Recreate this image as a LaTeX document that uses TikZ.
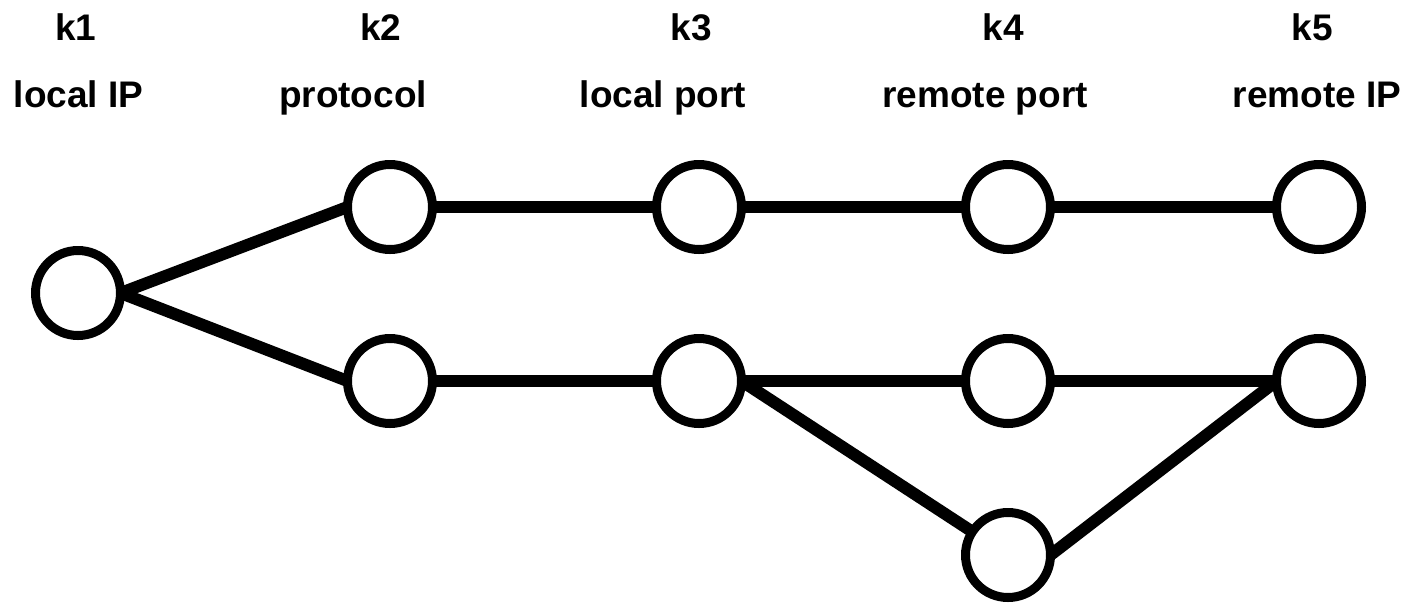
\documentclass[tikz,border=0pt]{standalone}
\usepackage{fontspec}
\setmainfont{Liberation Sans}
\begin{document}
\begin{tikzpicture}[x=1pt,y=-1pt,
  vnode/.style={circle,draw=black,line width=9pt,minimum size=85pt,inner sep=0pt,outer sep=0pt},
  edge/.style={line width=12pt,draw=black},
  lbl/.style={anchor=base,font=\fontsize{37}{44}\selectfont\bfseries,inner sep=0pt}]
\useasboundingbox (0,0) rectangle (1405,606);
% labels
\node[lbl] (t1a) at (76,40) {k1};
\node[lbl] (t1b) at (78.5,107) {local IP};
\node[lbl] (t2a) at (381,40) {k2};
\node[lbl] (t2b) at (353,107) {protocol};
\node[lbl] (t3a) at (691,40) {k3};
\node[lbl] (t3b) at (663,107) {local port};
\node[lbl] (t4a) at (1003,40) {k4};
\node[lbl] (t4b) at (985,107) {remote port};
\node[lbl] (t5a) at (1312,40) {k5};
\node[lbl] (t5b) at (1317,107) {remote IP};
\coordinate (c1) at (78,293);
\coordinate (c2t) at (390,207);
\coordinate (c2b) at (390,381);
\coordinate (c3t) at (699,207);
\coordinate (c3b) at (699,381);
\coordinate (c4t) at (1008,207);
\coordinate (c4m) at (1008,381);
\coordinate (c4b) at (1008,555);
\coordinate (c5t) at (1319,207);
\coordinate (c5b) at (1319,381);
\node[vnode] (k1) at (c1) {};
\node[vnode] (k2t) at (c2t) {};
\node[vnode] (k2b) at (c2b) {};
\node[vnode] (k3t) at (c3t) {};
\node[vnode] (k3b) at (c3b) {};
\node[vnode] (k4t) at (c4t) {};
\node[vnode] (k4m) at (c4m) {};
\node[vnode] (k4b) at (c4b) {};
\node[vnode] (k5t) at (c5t) {};
\node[vnode] (k5b) at (c5b) {};
\draw[edge] (k1.east) -- (k2t.west);
\draw[edge] (k1.east) -- (k2b.west);
\draw[edge] (k2t.east) -- (k3t.west);
\draw[edge] (k3t.east) -- (k4t.west);
\draw[edge] (k4t.east) -- (k5t.west);
\draw[edge] (k2b.east) -- (k3b.west);
\draw[edge] (k3b.east) -- (k4m.west);
\draw[edge] (k4m.east) -- (k5b.west);
\draw[edge] (k3b.east) -- (k4b);
\draw[edge] (k4b.east) -- (k5b.west);
\end{tikzpicture}
\end{document}
